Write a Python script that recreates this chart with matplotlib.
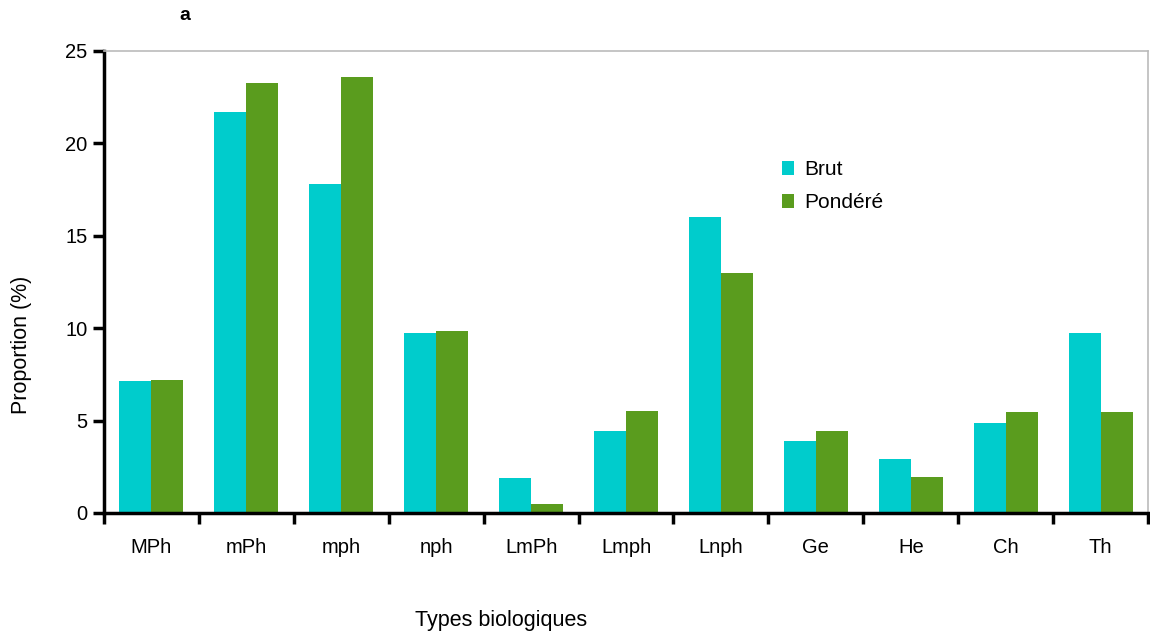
import numpy as np
import matplotlib.pyplot as plt

plt.rcParams['font.family'] = ['Liberation Sans', 'DejaVu Sans']

types = ["MPh", "mPh", "mph", "nph", "LmPh", "Lmph", "Lnph", "Ge", "He", "Ch", "Th"]
brut = [7.14, 21.7, 17.8, 9.74, 1.89, 4.44, 16.0, 3.9, 2.92, 4.87, 9.74]
pondere = [7.2, 23.27, 23.6, 9.85, 0.49, 5.52, 12.99, 4.44, 1.95, 5.47, 5.47]

fig = plt.figure(figsize=(11.5, 6.37), dpi=100)
ax = fig.add_axes([0.0904, 0.1947, 0.9079, 0.7253])

x = np.arange(len(types))
w = 0.337
ax.bar(x - w / 2, brut, w, color="#00CCCC", label="Brut")
ax.bar(x + w / 2, pondere, w, color="#5A9C1E", label="Pondéré")

ax.set_xlim(-0.5, len(types) - 0.5)
ax.set_ylim(0, 25)
ax.set_yticks([0, 5, 10, 15, 20, 25])

ax.set_xticks(x)
ax.set_xticklabels(types)
ax.set_xticks(np.arange(-0.5, len(types)), minor=True)
ax.tick_params(axis="x", which="major", length=0, pad=18, labelsize=14.5)
ax.tick_params(axis="x", which="minor", length=8, width=2.5, direction="out", color="black")
ax.tick_params(axis="y", length=8, width=2.5, labelsize=14.5, pad=4)

for side in ["top", "right"]:
    ax.spines[side].set_color("#BBBBBB")
    ax.spines[side].set_linewidth(1.2)
for side in ["left", "bottom"]:
    ax.spines[side].set_color("black")
    ax.spines[side].set_linewidth(2.5)

# axis titles sit below the axes centre, so place them on the figure
fig.text(0.019, 0.458, "Proportion (%)", fontsize=15.5, rotation=90,
         ha="center", va="center")
fig.text(0.436, 0.026, "Types biologiques", fontsize=15.5, ha="center", va="center")
fig.text(0.161, 0.976, "a", fontsize=14, fontweight="bold", ha="center", va="center")

ax.legend(loc="upper left", bbox_to_anchor=(0.631, 0.804), frameon=False,
          fontsize=15, handlelength=0.62, handleheight=0.62, handletextpad=0.45,
          labelspacing=0.68)

fig.savefig("out.png", dpi=100)
